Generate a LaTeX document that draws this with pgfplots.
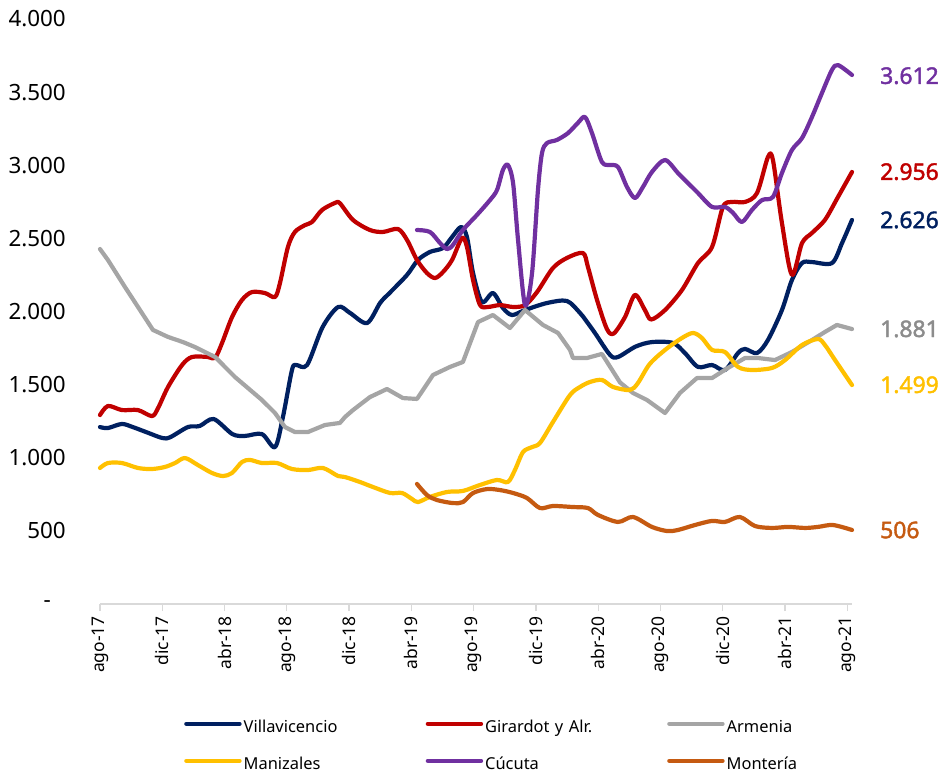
\documentclass[border=0pt]{standalone}
\usepackage{fontspec}
\setmainfont{Noto Sans}
\newfontfamily\labfont{Noto Sans}[FakeBold=1.8]
\usepackage{pgfplots}
\pgfplotsset{compat=1.18}

\definecolor{cVilla}{HTML}{002060}
\definecolor{cGira}{HTML}{C00000}
\definecolor{cArme}{HTML}{A5A5A5}
\definecolor{cArmeT}{HTML}{8C8C8C}
\definecolor{cMani}{HTML}{FFC000}
\definecolor{cCucu}{HTML}{7030A0}
\definecolor{cMont}{HTML}{C55A11}

\begin{document}
\begin{tikzpicture}
\useasboundingbox (0,0) rectangle (944bp,773bp);
\begin{axis}[
  at={(100bp,169bp)}, anchor=south west,
  scale only axis, width=752bp, height=585bp,
  xmin=0, xmax=48.3, ymin=0, ymax=4000,
  clip=false,
  axis x line*=bottom, axis y line*=left,
  y axis line style={draw=none},
  x axis line style={draw=black!15, line width=1.3bp},
  ytick={0,500,...,4000},
  yticklabels={{-\rule{15bp}{0pt}},500,1.000,1.500,2.000,2.500,3.000,3.500,4.000},
  ytick style={draw=none},
  yticklabel style={font=\fontsize{22.5}{26}\selectfont, anchor=east, inner sep=0pt, xshift=-27bp},
  xtick={0,4,...,48},
  xticklabels={ago-17,dic-17,abr-18,ago-18,dic-18,abr-19,ago-19,dic-19,abr-20,ago-20,dic-20,abr-21,ago-21},
  tick align=outside, major tick length=7bp,
  xtick style={draw=black!15, line width=1.3bp},
  xticklabel style={font=\fontsize{17.5}{20}\selectfont, rotate=90, anchor=east, inner sep=0pt, xshift=-5bp},
  /pgf/number format/assume math mode=true,
  every axis plot/.append style={line width=4.2bp, line join=round, line cap=round},
  legend columns=3,
  legend style={draw=none, fill=none, at={(0.1077,-0.196)}, anchor=north west,
    font=\fontsize{16.5}{19}\selectfont, row sep=21bp,
    nodes={inner xsep=2bp, inner ysep=0pt, text height=12bp, text depth=4bp},
    /tikz/every even column/.append style={text width=180bp}},
  legend cell align=left,
  legend image code/.code={\draw[#1, line width=4.5bp, line cap=round] (0bp,5bp) -- (53bp,5bp);},
]
% Villavicencio
\addplot[cVilla, smooth] coordinates {
(0,1210) (0.5,1203) (1.4,1231) (2.1,1210) (3.1,1170) (4.0,1135) (4.5,1140) (5.65,1210) (6.4,1217) (7.3,1265)
(8.5,1162) (9.3,1149) (10.4,1162) (11.24,1073) (11.75,1279) (12.33,1600) (12.6,1634) (13.3,1634)
(14.3,1894) (15.3,2031) (16.06,1990) (17.15,1921) (18.0,2060) (18.63,2130) (19.72,2250) (20.42,2352)
(21.19,2407) (22.03,2434) (22.61,2509) (23.19,2578) (23.57,2509) (23.96,2263) (24.53,2065) (25.24,2126)
(25.88,2024) (26.46,1976) (27.3,2010) (28.71,2058) (29.99,2072) (30.83,1990) (31.2,1940) (31.79,1853)
(32.76,1703) (33.27,1689) (34.4,1760) (35.45,1791) (36.8,1785) (37.57,1716) (38.41,1621) (39.31,1634)
(40.14,1600) (40.98,1716) (41.43,1744) (42.2,1716) (42.9,1805) (43.8,2010) (44.44,2215) (45.09,2332)
(45.73,2338) (47.01,2331) (47.66,2468) (48.3,2626)};
\addlegendentry{Villavicencio}
% Girardot y Alr.
\addplot[cGira, smooth] coordinates {
(0,1292) (0.51,1354) (1.41,1326) (2.44,1326) (3.34,1285) (3.73,1340) (4.37,1484) (5.27,1634) (5.91,1689)
(6.94,1689) (7.39,1682) (7.84,1785) (8.48,1962) (9.12,2079) (9.76,2133) (10.6,2126) (11.24,2099)
(11.56,2195) (12.07,2441) (12.52,2544) (13.17,2591) (13.62,2612) (14.26,2694) (15.09,2742) (15.41,2740)
(16.25,2626) (17.34,2557) (18.18,2544) (19.14,2564) (19.72,2489) (20.36,2352) (21.0,2263) (21.52,2229)
(22.03,2270) (22.61,2352) (23.25,2503) (23.57,2441) (23.96,2215) (24.41,2044) (24.92,2031) (25.69,2044)
(26.53,2031) (27.3,2044) (28.07,2133) (29.09,2297) (29.99,2366) (31.02,2400) (31.34,2304) (31.92,2080)
(32.56,1880) (33.0,1850) (33.72,1962) (34.36,2113) (35.0,2010) (35.4,1945) (36.29,2010) (37.38,2147)
(38.41,2332) (39.31,2441) (40.01,2715) (40.59,2749) (41.43,2749) (42.2,2810) (42.9,3056) (43.22,3036)
(43.8,2605) (44.44,2250) (45.09,2468) (45.73,2537) (46.56,2626) (47.4,2783) (48.3,2954)};
\addlegendentry{Girardot y Alr.}
% Armenia
\addplot[cArme] coordinates {
(0,2427) (0.51,2352) (1.6,2168) (2.44,2031) (3.4,1874) (4.37,1826) (5.33,1791) (6.1,1757) (7.39,1689)
(8.67,1552) (10.4,1395) (11.24,1306) (11.88,1210) (12.52,1176) (13.36,1176) (14.45,1224) (15.41,1238)
(15.74,1279) (16.25,1326) (17.34,1415) (18.43,1470) (19.46,1408) (20.36,1402) (21.39,1566) (22.48,1621)
(23.31,1655) (24.28,1928) (25.24,1976) (26.33,1887) (27.3,2010) (28.45,1908) (29.42,1853) (30.19,1737)
(30.38,1682) (31.28,1682) (32.24,1710) (33.4,1515) (34.23,1443) (35.13,1395) (36.29,1306) (37.25,1443)
(38.34,1545) (39.31,1545) (40.33,1614) (41.43,1682) (42.26,1682) (43.35,1668) (44.44,1723) (45.73,1805)
(46.56,1860) (47.33,1908) (48.3,1880)};
\addlegendentry{Armenia}
% Manizales
\addplot[cMani, smooth] coordinates {
(0,930) (0.51,964) (1.41,964) (2.44,930) (3.34,923) (4.17,937) (4.82,964) (5.46,998) (6.29,950) (7.19,896)
(7.9,875) (8.48,896) (9.12,971) (9.63,985) (10.4,964) (11.37,964) (12.33,923) (13.36,916) (14.32,930)
(15.29,875) (15.74,868) (16.7,834) (17.53,800) (18.63,759) (19.4,759) (20.04,718) (20.42,697) (21.19,732)
(22.29,766) (23.31,773) (24.41,814) (25.5,848) (26.2,834) (26.65,916) (27.17,1039) (27.75,1073)
(28.26,1101) (29.09,1244) (30.19,1429) (30.83,1484) (31.47,1518) (32.24,1532) (32.95,1484) (34.04,1463)
(34.55,1511) (35.3,1640) (36.29,1737) (37.38,1819) (38.09,1853) (38.66,1819) (39.31,1737) (40.14,1723)
(40.98,1621) (41.87,1600) (43.16,1614) (44.0,1668) (45.09,1771) (46.11,1812) (46.56,1771) (47.21,1668)
(48.3,1497)};
\addlegendentry{Manizales}
% Cucuta
\addplot[cCucu, smooth] coordinates {
(20.36,2557) (21.19,2544) (21.84,2468) (22.29,2427) (22.67,2455) (23.31,2557) (24.21,2660) (25.05,2762)
(25.5,2831) (25.88,2968) (26.2,3002) (26.53,2879) (26.85,2489) (27.3,2044) (27.75,2263) (28.13,2831)
(28.39,3084) (28.71,3152) (29.35,3173) (30.06,3220) (30.7,3290) (31.15,3330) (31.6,3220) (32.24,3022)
(32.76,3002) (33.27,2988) (33.85,2851) (34.36,2776) (34.87,2851) (35.45,2954) (36.29,3036) (37.12,2947)
(37.76,2879) (38.41,2810) (39.31,2715) (40.14,2715) (40.66,2674) (41.23,2612) (41.87,2694) (42.52,2762)
(43.22,2783) (43.8,2947) (44.44,3104) (45.09,3186) (45.73,3330) (46.37,3494) (47.01,3651) (47.4,3685)
(48.3,3617)};
\addlegendentry{Cúcuta}
% Monteria
\addplot[cMont, smooth] coordinates {
(20.36,821) (21.0,745) (21.64,711) (22.67,690) (23.31,697) (23.96,759) (24.86,786) (25.69,779) (26.53,759)
(27.42,725) (28.26,656) (29.09,670) (30.38,663) (31.34,656) (31.98,609) (33.27,561) (34.23,595)
(35.45,527) (36.42,499) (37.12,506) (38.21,540) (39.31,568) (40.14,561) (41.1,595) (42.07,533)
(43.16,520) (44.19,527) (45.28,520) (46.11,527) (47.08,540) (48.3,506)};
\addlegendentry{Montería}
% end labels
\begin{scope}[every node/.style={anchor=west, inner sep=0pt, xshift=28bp, font=\labfont\fontsize{23}{27}\selectfont}]
\node[text=cCucu] at (axis cs:48.3,3612) {3.612};
\node[text=cGira] at (axis cs:48.3,2956) {2.956};
\node[text=cVilla] at (axis cs:48.3,2626) {2.626};
\node[text=cArmeT] at (axis cs:48.3,1881) {1.881};
\node[text=cMani] at (axis cs:48.3,1499) {1.499};
\node[text=cMont] at (axis cs:48.3,506) {506};
\end{scope}
\end{axis}
\end{tikzpicture}
\end{document}
